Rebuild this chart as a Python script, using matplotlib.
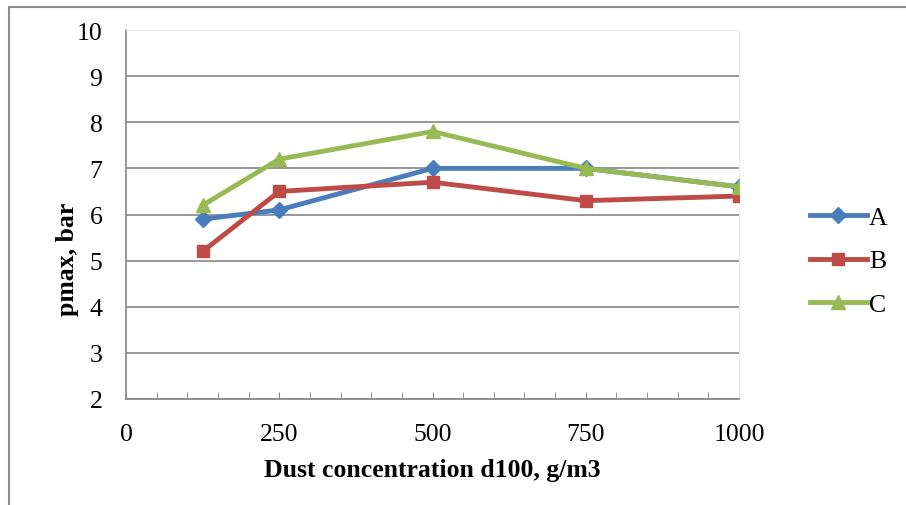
import numpy as np
import matplotlib.pyplot as plt
from matplotlib.patches import Rectangle

plt.rcParams['font.family'] = ['Liberation Serif', 'DejaVu Serif']

conc = [125, 250, 500, 750, 1000]
series_a = [5.9, 6.1, 7.0, 7.0, 6.6]
series_b = [5.2, 6.5, 6.7, 6.3, 6.4]
series_c = [6.2, 7.2, 7.8, 7.0, 6.6]
names = ['A', 'B', 'C']
x_ticks = [0, 250, 500, 750, 1000]
y_ticks = [2, 3, 4, 5, 6, 7, 8, 9, 10]

fig = plt.figure(figsize=(9.06, 5.06), dpi=100)
# outer chart frame, cut off at right and bottom like the original
fig.patches.append(Rectangle((9 / 906, -0.1), 1.1, 1.1 - 8 / 506,
                             transform=fig.transFigure, fill=False,
                             edgecolor='#8c8c8c', linewidth=1.5))

ax = fig.add_axes([126 / 906, 106 / 506, 613 / 906, 369 / 506])

ax.plot(conc, series_a, color='#4a7ebb', lw=3.5, marker='D', ms=8, label=names[0], zorder=3)
ax.plot(conc, series_b, color='#be4b48', lw=3.5, marker='s', ms=9, label=names[1], zorder=3)
ax.plot(conc, series_c, color='#98b954', lw=3.5, marker='^', ms=10, label=names[2], zorder=3)

ax.set_xlim(0, 1000)
ax.set_ylim(2, 10)
ax.set_xticks(x_ticks)
ax.set_xticks(np.arange(0, 1001, 50), minor=True)
ax.set_yticks(y_ticks)
ax.yaxis.grid(True, color='#868686', lw=1.2)
ax.set_axisbelow(True)

for s in ['top', 'right']:
    ax.spines[s].set_color('#eeebe0')
for s in ['left', 'bottom']:
    ax.spines[s].set_color('#868686')
    ax.spines[s].set_linewidth(1.2)

ax.tick_params(axis='x', which='both', direction='in', length=5, color='#868686',
               labelsize=18.5, pad=17)
ax.tick_params(axis='y', length=0, labelsize=18.5, pad=17)

ax.set_xlabel('Dust concentration d100, g/m3', fontsize=18.5, fontweight='bold', labelpad=10)
ax.set_ylabel('pmax, bar', fontsize=18.5, fontweight='bold')
ax.yaxis.set_label_coords(-0.077, 0.38)

fig.legend(loc='center left', bbox_to_anchor=(810 / 906, 1 - 262 / 506),
           bbox_transform=fig.transFigure, frameon=False, fontsize=18.5,
           handlelength=2.2, handletextpad=0.1, labelspacing=0.8,
           borderpad=0, borderaxespad=0)

fig.savefig('out.png', dpi=100)
